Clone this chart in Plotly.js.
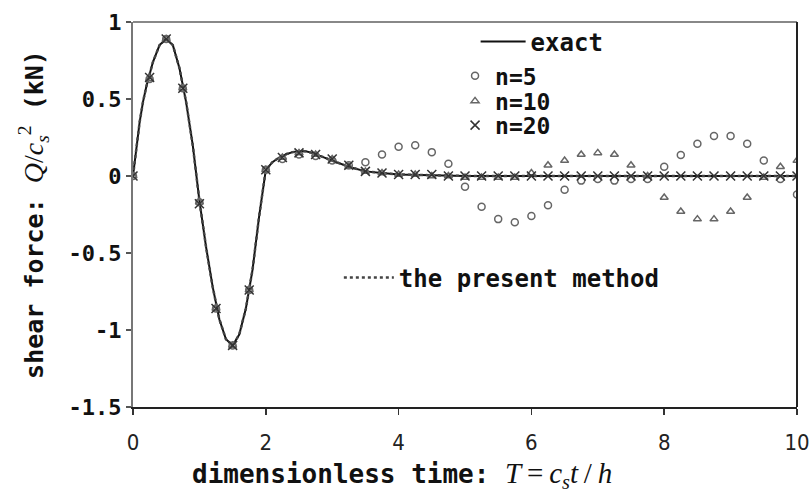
<!DOCTYPE html>
<html>
<head>
<meta charset="utf-8">
<script src="https://cdn.plot.ly/plotly-3.0.1.min.js"></script>
<style>html,body{margin:0;padding:0;background:#fff;}#chart{width:810px;height:494px;}</style>
</head>
<body>
<div id="chart"></div>
<script>
// exact solution curve
const exactT = [0, 0.05, 0.1, 0.15, 0.2, 0.3, 0.4, 0.5, 0.6, 0.7, 0.8, 0.9, 1.0, 1.1, 1.2, 1.3, 1.4, 1.5, 1.6, 1.7, 1.8, 1.9, 2.0, 2.1, 2.2, 2.3, 2.4, 2.5, 2.6, 2.7, 2.8, 2.9, 3.0, 3.25, 3.5, 3.75, 4.0, 4.5, 5, 6, 7, 8, 9, 10];
const exactY = [0, 0.18, 0.35, 0.48, 0.58, 0.74, 0.85, 0.89, 0.85, 0.70, 0.48, 0.20, -0.16, -0.46, -0.72, -0.93, -1.06, -1.10, -1.03, -0.86, -0.61, -0.26, 0.04, 0.09, 0.12, 0.14, 0.155, 0.16, 0.16, 0.15, 0.135, 0.12, 0.10, 0.06, 0.03, 0.02, 0.01, 0.005, 0, 0, 0, 0, 0, 0];
// the present method (visually coincides with exact)
const presentY = [0, 0.18, 0.35, 0.48, 0.58, 0.74, 0.85, 0.89, 0.85, 0.70, 0.48, 0.20, -0.16, -0.46, -0.72, -0.93, -1.06, -1.10, -1.03, -0.86, -0.61, -0.26, 0.04, 0.09, 0.12, 0.14, 0.155, 0.16, 0.16, 0.15, 0.135, 0.12, 0.10, 0.06, 0.03, 0.02, 0.01, 0.005, 0, 0, 0, 0, 0, 0];
// sampled times for the n = 5, 10, 20 results
const sampleT = [0, 0.25, 0.5, 0.75, 1.0, 1.25, 1.5, 1.75, 2.0, 2.25, 2.5, 2.75, 3.0, 3.25, 3.5, 3.75, 4.0, 4.25, 4.5, 4.75, 5.0, 5.25, 5.5, 5.75, 6.0, 6.25, 6.5, 6.75, 7.0, 7.25, 7.5, 7.75, 8.0, 8.25, 8.5, 8.75, 9.0, 9.25, 9.5, 9.75, 10.0];
const n5Y  = [0, 0.63, 0.89, 0.57, -0.17, -0.86, -1.10, -0.74, 0.04, 0.11, 0.14, 0.13, 0.10, 0.07, 0.09, 0.14, 0.19, 0.20, 0.155, 0.08, -0.07, -0.20, -0.28, -0.30, -0.26, -0.19, -0.09, -0.03, -0.02, -0.03, -0.02, -0.02, 0.06, 0.137, 0.21, 0.26, 0.26, 0.21, 0.10, -0.02, -0.12];
const n10Y = [0, 0.63, 0.89, 0.57, -0.17, -0.86, -1.10, -0.74, 0.04, 0.12, 0.15, 0.14, 0.11, 0.06, 0.03, 0.02, 0.01, 0.01, 0.0, 0.0, -0.01, -0.01, -0.01, -0.01, 0.02, 0.07, 0.10, 0.14, 0.15, 0.14, 0.07, 0.0, -0.14, -0.23, -0.28, -0.28, -0.23, -0.14, -0.01, 0.06, 0.10];
const n20Y = [0, 0.64, 0.89, 0.57, -0.18, -0.86, -1.10, -0.74, 0.04, 0.12, 0.15, 0.14, 0.11, 0.07, 0.03, 0.02, 0.01, 0.01, 0.01, 0.0, 0.0, 0.0, 0.0, 0.0, 0.0, 0.0, 0.0, 0.0, 0.0, 0.0, 0.0, 0.0, 0.0, 0.0, 0.0, 0.0, 0.0, 0.0, 0.0, 0.0, 0.0];
// axis ticks
const xTickVals = [0, 2, 4, 6, 8, 10];
const xTickText = ['0', '2', '4', '6', '8', '10'];
const yTickVals = [-1.5, -1, -0.5, 0, 0.5, 1];
const yTickText = ['-1.5', '-1', '-0.5', '0', '0.5', '1'];
const seriesNames = ['exact', 'the present method', 'n=5', 'n=10', 'n=20'];
const xTitle = 'dimensionless time:\u2002<span style="font-family:Liberation Serif;font-weight:normal;font-size:29px"><i>T</i>\u2009=\u2009<i>c</i><sub><i>s</i></sub><i>t</i>\u2009/\u2009<i>h</i></span>';
const yTitle = 'shear force: <span style="font-family:Liberation Serif;font-weight:normal;font-size:28px"><i>Q</i>/<i>c</i><sub><i>s</i></sub><sup>2</sup></span> (kN)';

const MONO = 'DejaVu Sans Mono, Liberation Mono, monospace';
function leg(x, y, iw, fs) {
  return {x: x, y: y, xanchor: 'left', yanchor: 'middle', bgcolor: 'rgba(0,0,0,0)',
          borderwidth: 0, font: {family: MONO, size: fs || 24, color: '#111', weight: 'bold'},
          itemwidth: iw || 30};
}

const traces = [
  {x: exactT, y: exactY, mode: 'lines', name: seriesNames[0], legend: 'legend',
   line: {color: '#111', width: 2}},
  {x: exactT, y: presentY, mode: 'lines', name: seriesNames[1], legend: 'legend5',
   line: {color: '#444', width: 2.5, dash: 'dot'}},
  {x: sampleT, y: n5Y, mode: 'markers', name: seriesNames[2], legend: 'legend2',
   marker: {symbol: 'circle-open', size: 7, color: '#666', line: {width: 1.5, color: '#666'}}},
  {x: sampleT, y: n10Y, mode: 'markers', name: seriesNames[3], legend: 'legend3',
   marker: {symbol: 'triangle-up-open', size: 7, color: '#666', line: {width: 1.5, color: '#666'}}},
  {x: sampleT, y: n20Y, mode: 'markers', name: seriesNames[4], legend: 'legend4',
   marker: {symbol: 'x-thin-open', size: 9, color: '#333', line: {width: 1.5, color: '#333'}}}
];

const layout = {
  width: 810, height: 494,
  paper_bgcolor: '#fff', plot_bgcolor: '#fff',
  margin: {l: 133, r: 13, t: 22, b: 87},
  showlegend: true,
  xaxis: {
    range: [0, 10], tickvals: xTickVals, ticktext: xTickText,
    ticks: 'outside', ticklen: 6, tickwidth: 1.5, tickcolor: '#333',
    ticklabelstandoff: 9, ticklabeloverflow: 'allow',
    showgrid: false, zeroline: false, showline: true, linecolor: '#222', linewidth: 2,
    tickfont: {family: 'DejaVu Sans Condensed, DejaVu Sans, sans-serif', size: 22, color: '#222'},
    fixedrange: true
  },
  yaxis: {
    range: [-1.5, 1], tickvals: yTickVals, ticktext: yTickText,
    ticks: 'outside', ticklen: 5, tickwidth: 1.5, tickcolor: '#555',
    showgrid: false, zeroline: false, showline: true, linecolor: '#777', linewidth: 2,
    tickfont: {family: MONO, size: 22, color: '#111', weight: 'bold'},
    title: {text: yTitle, font: {family: MONO, size: 25, color: '#111', weight: 'bold'}, standoff: 18},
    fixedrange: true
  },
  legend: leg(0.516, 0.948, 45),
  legend2: leg(0.485, 0.860, 30, 23),
  legend3: leg(0.485, 0.795, 30, 23),
  legend4: leg(0.485, 0.732, 30, 23),
  legend5: leg(0.31, 0.335, 50),
  annotations: [
    {text: xTitle, xref: 'paper', yref: 'paper', x: 0.0858, y: -0.176, xanchor: 'left', yanchor: 'middle',
     showarrow: false, font: {family: MONO, size: 26, color: '#111', weight: 'bold'}}
  ],
  shapes: [
    {type: 'line', xref: 'paper', yref: 'paper', x0: 0, x1: 1, y0: 1, y1: 1, line: {color: '#888', width: 2}},
    {type: 'line', xref: 'paper', yref: 'paper', x0: 1, x1: 1, y0: 0, y1: 1, line: {color: '#222', width: 2}}
  ]
};

Plotly.newPlot('chart', traces, layout, {displayModeBar: false, staticPlot: true});
</script>
</body>
</html>
